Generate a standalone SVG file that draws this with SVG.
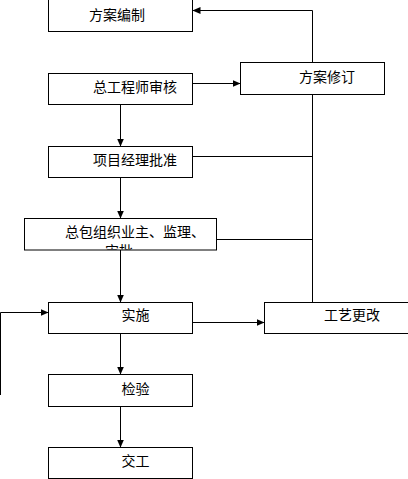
<svg xmlns="http://www.w3.org/2000/svg" width="408" height="479" viewBox="0 0 408 479">
<style>
.box{fill:#fff;stroke:#000;stroke-width:1}
.t{font-family:"Noto Sans CJK SC","Noto Sans CJK JP",sans-serif;font-size:14px;fill:#000}
.c{fill:none;stroke:#000;stroke-width:1}
</style>
<defs>
<marker id="ah" markerUnits="userSpaceOnUse" markerWidth="8" markerHeight="8" refX="8" refY="4" orient="auto">
<path d="M0,0.5 L8,4 L0,7.5 z" fill="#000"/>
</marker>
<clipPath id="cp"><rect x="25" y="219" width="191" height="30.5"/></clipPath>
</defs>
<rect width="408" height="479" fill="#fff"/>
<g id="connectors">
<path class="c" d="M192.5,83.5 H240.5" marker-end="url(#ah)"/>
<path class="c" d="M312.5,62.5 V10.5 H192.5" marker-end="url(#ah)"/>
<path class="c" d="M312.5,94.5 V302.5"/>
<path class="c" d="M192.5,156.5 H312.5"/>
<path class="c" d="M216.5,239.5 H312.5"/>
<path class="c" d="M120.5,104.5 V146.5" marker-end="url(#ah)"/>
<path class="c" d="M120.5,177.5 V218.5" marker-end="url(#ah)"/>
<path class="c" d="M120.5,250 V302.5" marker-end="url(#ah)"/>
<path class="c" d="M192.5,322.5 H264.5" marker-end="url(#ah)"/>
<path class="c" d="M0.5,395 V312.5 H48.5" marker-end="url(#ah)"/>
<path class="c" d="M120.5,333.5 V374.5" marker-end="url(#ah)"/>
<path class="c" d="M120.5,406.5 V447.5" marker-end="url(#ah)"/>
</g>
<g id="n1"><rect class="box" x="48.5" y="-0.5" width="144" height="32"/><text class="t" x="89" y="19.5">方案编制</text></g>
<g id="n2"><rect class="box" x="240.5" y="62.5" width="144" height="32"/><text class="t" x="299" y="81.5">方案修订</text></g>
<g id="n3"><rect class="box" x="48.5" y="73.5" width="144" height="31"/><text class="t" x="93" y="92">总工程师审核</text></g>
<g id="n4"><rect class="box" x="48.5" y="146.5" width="144" height="31"/><text class="t" x="93" y="164.5">项目经理批准</text></g>
<g id="n5"><rect class="box" x="24.5" y="218.5" width="192" height="31.5"/><g clip-path="url(#cp)"><text class="t" x="65" y="237">总包组织业主、监理、</text><text class="t" x="105" y="256">审批</text></g></g>
<g id="n6"><rect class="box" x="48.5" y="302.5" width="144" height="31"/><text class="t" x="121.5" y="320">实施</text></g>
<g id="n7"><rect class="box" x="264.5" y="302.5" width="150" height="31"/><text class="t" x="324" y="320">工艺更改</text></g>
<g id="n8"><rect class="box" x="48.5" y="374.5" width="144" height="32"/><text class="t" x="121.5" y="394">检验</text></g>
<g id="n9"><rect class="box" x="48.5" y="447.5" width="144" height="31"/><text class="t" x="121.5" y="466">交工</text></g>
</svg>
